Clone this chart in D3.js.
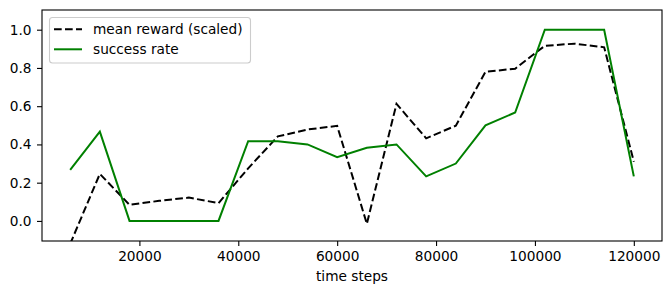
<!DOCTYPE html>
<html>
<head>
<meta charset="utf-8">
<script src="https://cdn.jsdelivr.net/npm/d3@7"></script>
<style>
  body { margin: 0; background: #fff; }
  text { font-family: "DejaVu Sans", sans-serif; fill: #000; }
</style>
</head>
<body>
<div id="chart"></div>
<script>
// time steps of each evaluation
var steps = [6000, 12000, 18000, 24000, 30000, 36000, 42000, 48000, 54000, 60000,
             66000, 72000, 78000, 84000, 90000, 96000, 102000, 108000, 114000, 120000];

// mean reward, scaled (first point goes below the visible range)
var meanReward = [-0.12, 0.246, 0.084, 0.105, 0.122, 0.093, 0.275, 0.442, 0.478, 0.497,
                  -0.015, 0.612, 0.432, 0.498, 0.78, 0.796, 0.916, 0.927, 0.908, 0.31];

// success rate
var successRate = [0.267, 0.467, 0, 0, 0, 0, 0.417, 0.417, 0.40, 0.333,
                   0.383, 0.40, 0.233, 0.30, 0.50, 0.567, 1.0, 1.0, 1.0, 0.233];

var xTicks = [20000, 40000, 60000, 80000, 100000, 120000];
var yTicks = [0.0, 0.2, 0.4, 0.6, 0.8, 1.0];

var seriesNames = ["mean reward (scaled)", "success rate"];

var width = 671, height = 294;
var plotLeft = 42, plotRight = 662, plotTop = 10, plotBottom = 241;
var fontSize = "13.7px";

var svg = d3.select("#chart").append("svg")
    .attr("width", width)
    .attr("height", height);

var x = d3.scaleLinear()
    .domain([300, 125700])
    .range([plotLeft, plotRight]);

var y = d3.scaleLinear()
    .domain([-0.105, 1.103])
    .range([plotBottom, plotTop]);

svg.append("clipPath").attr("id", "clip")
  .append("rect")
    .attr("x", plotLeft).attr("y", plotTop)
    .attr("width", plotRight - plotLeft).attr("height", plotBottom - plotTop);

var line = function(vals) {
    return d3.line()
        .x(function(d, i) { return x(steps[i]); })
        .y(function(d) { return y(d); })(vals);
};

var plot = svg.append("g").attr("clip-path", "url(#clip)");

plot.append("path")
    .attr("d", line(meanReward))
    .attr("fill", "none")
    .attr("stroke", "black")
    .attr("stroke-width", 2)
    .attr("stroke-dasharray", "7.7,3.3");

plot.append("path")
    .attr("d", line(successRate))
    .attr("fill", "none")
    .attr("stroke", "green")
    .attr("stroke-width", 2);

// axes
var xAxis = svg.append("g")
    .attr("transform", "translate(0," + plotBottom + ")")
    .call(d3.axisBottom(x).tickValues(xTicks).tickFormat(d3.format("d")).tickSize(5).tickPadding(5));

var yAxis = svg.append("g")
    .attr("transform", "translate(" + plotLeft + ",0)")
    .call(d3.axisLeft(y).tickValues(yTicks).tickFormat(d3.format(".1f")).tickSize(5).tickPadding(5.5));

[xAxis, yAxis].forEach(function(g) {
    g.select(".domain").remove();
    g.selectAll("line").attr("stroke", "black").attr("stroke-width", 1.1);
    g.selectAll("text").attr("font-size", fontSize).attr("font-family", "DejaVu Sans").attr("fill", "black");
});

// frame
svg.append("rect")
    .attr("x", plotLeft).attr("y", plotTop)
    .attr("width", plotRight - plotLeft).attr("height", plotBottom - plotTop)
    .attr("fill", "none")
    .attr("stroke", "black")
    .attr("stroke-width", 1.1);

svg.append("text")
    .attr("x", (plotLeft + plotRight) / 2)
    .attr("y", 281)
    .attr("text-anchor", "middle")
    .attr("font-size", fontSize)
    .text("time steps");

// legend
var legend = svg.append("g");
legend.append("rect")
    .attr("x", 49.5).attr("y", 17.5)
    .attr("width", 201).attr("height", 45.5)
    .attr("rx", 3)
    .attr("fill", "white").attr("fill-opacity", 0.8)
    .attr("stroke", "#cccccc").attr("stroke-width", 1.1);

var rows = legend.selectAll(".row").data(seriesNames)
  .enter().append("g")
    .attr("transform", function(d, i) { return "translate(0," + (29.3 + i * 20) + ")"; });

rows.append("line")
    .attr("x1", 54).attr("x2", 82)
    .attr("stroke", function(d, i) { return i == 0 ? "black" : "green"; })
    .attr("stroke-width", 2)
    .attr("stroke-dasharray", function(d, i) { return i == 0 ? "7.7,3.3" : null; });

rows.append("text")
    .attr("x", 93)
    .attr("dy", "0.35em")
    .attr("font-size", fontSize)
    .text(function(d) { return d; });
</script>
</body>
</html>
